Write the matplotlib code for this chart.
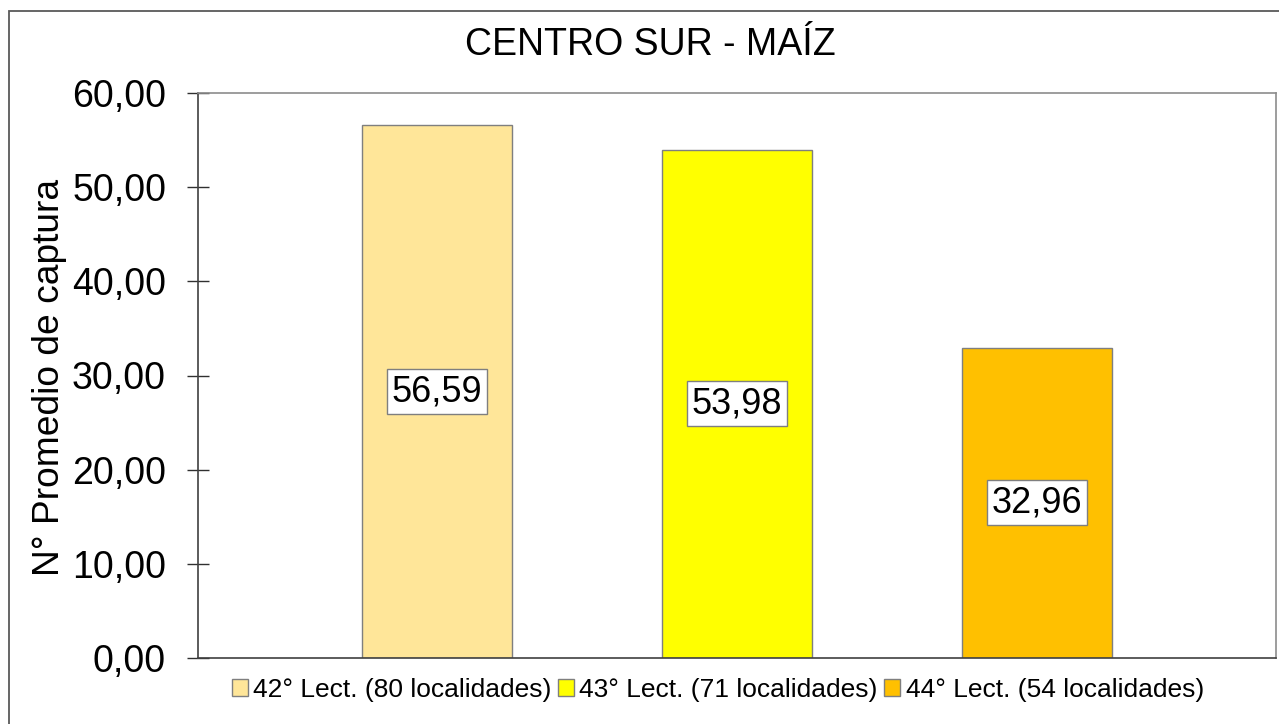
import matplotlib
matplotlib.use("Agg")
import matplotlib.pyplot as plt
from matplotlib.patches import Rectangle, Patch
from matplotlib.ticker import FuncFormatter

# Données
series = ["42° Lect. (80 localidades)", "43° Lect. (71 localidades)", "44° Lect. (54 localidades)"]
valeurs = [56.59, 53.98, 32.96]
couleurs = ["#FFE699", "#FFFF00", "#FFC000"]
titre = "CENTRO SUR - MAÍZ"
ylabel = "N° Promedio de captura"
yticks = [0, 10, 20, 30, 40, 50, 60]

plt.rcParams["font.family"] = ["Liberation Sans", "DejaVu Sans"]

W, H = 1279, 724
fig = plt.figure(figsize=(W / 100, H / 100), dpi=100)

# cadre extérieur du graphique
fig.patches.append(Rectangle((9 / W, -0.05), 1.2, 1 - 11 / H + 0.05, transform=fig.transFigure,
                             fill=False, edgecolor="#595959", lw=1.3))

ax = fig.add_axes([198 / W, 66 / H, (1276 - 198) / W, (658 - 93) / H])

x = list(range(len(valeurs)))
bars = ax.bar(x, valeurs, width=0.5, color=couleurs, edgecolor="#7f7f7f", linewidth=1.0, zorder=2)

for xi, v in zip(x, valeurs):
    ax.text(xi, v / 2, f"{v:.2f}".replace(".", ","), ha="center", va="center", fontsize=26,
            bbox=dict(boxstyle="square,pad=0.14", facecolor="white", edgecolor="#7f7f7f", lw=1.0),
            zorder=3)

ax.set_xlim(-0.797, 2.797)
ax.set_ylim(0, 60)
ax.set_xticks([])
ax.set_yticks(yticks)
ax.yaxis.set_major_formatter(FuncFormatter(lambda v, p: f"{v:.2f}".replace(".", ",")))
ax.tick_params(axis="y", direction="inout", length=16, width=1.0, color="#303030",
               labelsize=27, pad=15)

for side in ["left", "bottom"]:
    ax.spines[side].set_color("#404040")
    ax.spines[side].set_linewidth(1.2)
for side in ["top", "right"]:
    ax.spines[side].set_color("#8c8c8c")
    ax.spines[side].set_linewidth(1.2)

fig.text(50 / W, 1 - 377 / H, ylabel, rotation=90, ha="center", va="center", fontsize=26.7)
fig.text(650 / W, 1 - 45 / H, titre, ha="center", va="center", fontsize=27)

handles = [Patch(facecolor=c, edgecolor="#7f7f7f", lw=1.0) for c in couleurs]
fig.legend(handles, series, loc="center", bbox_to_anchor=(718 / W, 1 - 690 / H), ncol=3,
           frameon=False, fontsize=19, handlelength=0.6, handleheight=0.6,
           handletextpad=0.2, columnspacing=0.25, borderpad=0)

fig.savefig("out.png", dpi=100)
